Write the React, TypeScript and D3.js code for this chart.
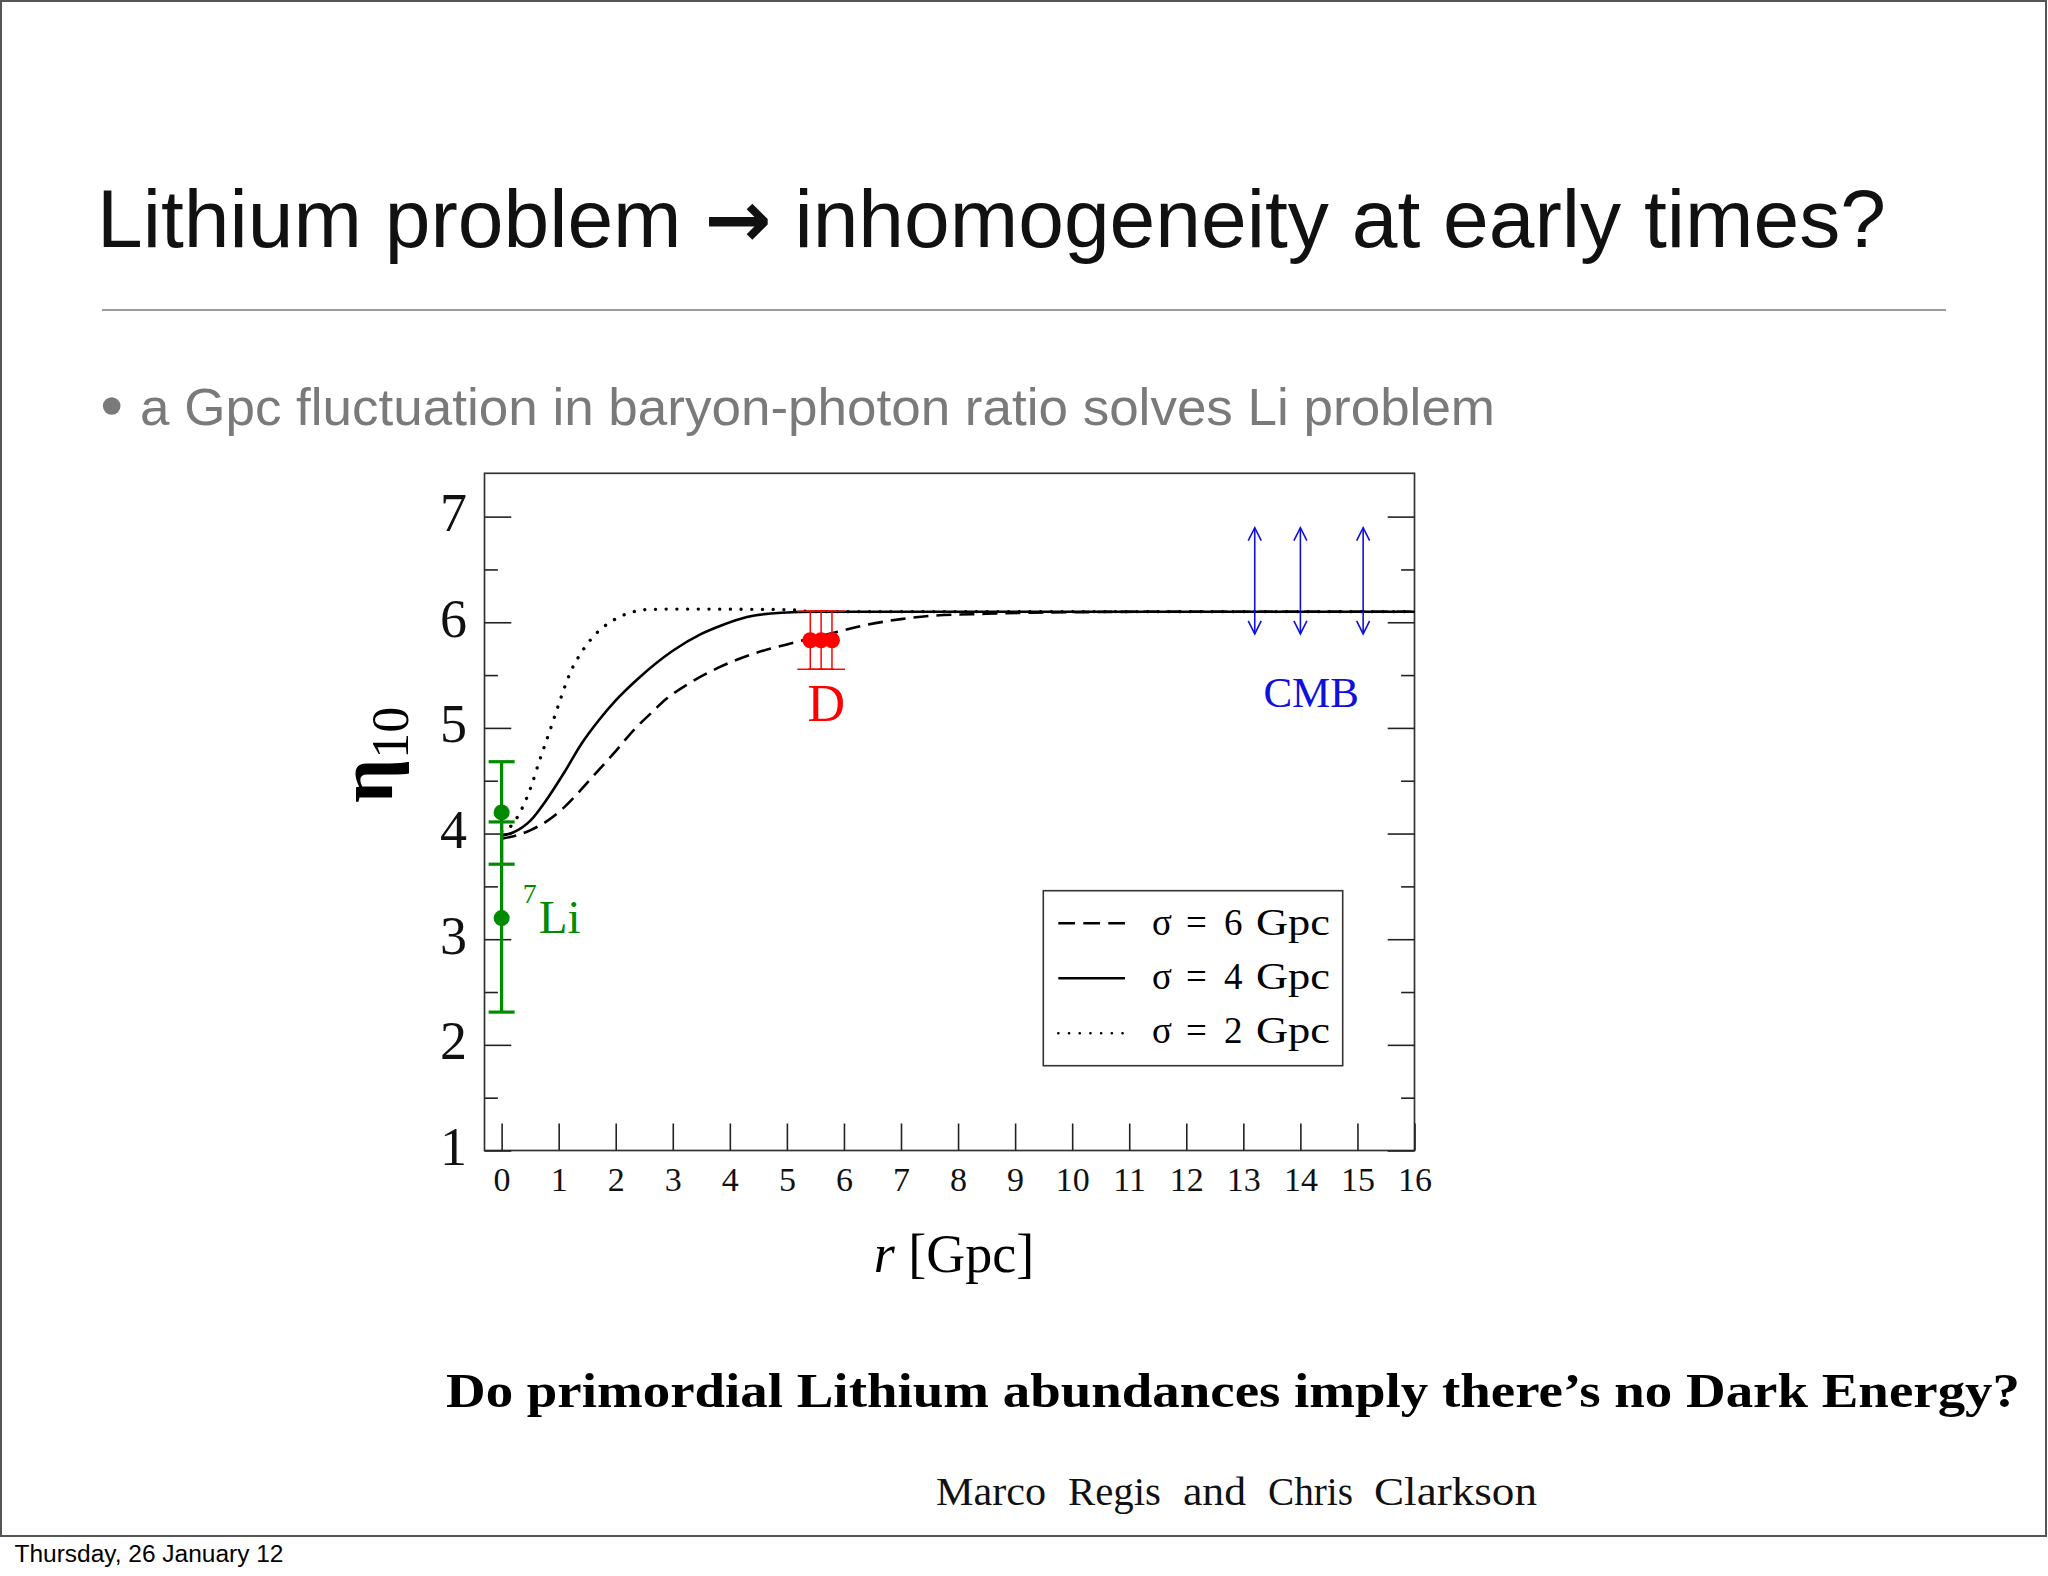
import React, { useEffect, useRef } from "react";
import * as d3 from "d3";

// ---------- data ----------
const X_TICKS = [0, 1, 2, 3, 4, 5, 6, 7, 8, 9, 10, 11, 12, 13, 14, 15, 16];
const Y_TICKS = [1, 2, 3, 4, 5, 6, 7];
const Y_MINOR = [1.5, 2.5, 3.5, 4.5, 5.5, 6.5];

// sigma = 6 Gpc (dashed)
const R_S6 = [0, 0.5, 0.8, 1.1, 1.4, 1.7, 2.0, 2.3, 2.6, 2.9, 3.25, 3.8, 4.4, 5.0, 5.75, 6.35, 7.0, 7.5, 8.5, 10, 12, 16];
const ETA_S6 = [3.95, 4.03, 4.12, 4.25, 4.42, 4.6, 4.78, 4.97, 5.13, 5.28, 5.41, 5.57, 5.7, 5.79, 5.89, 5.97, 6.03, 6.06, 6.08, 6.095, 6.1, 6.1];
// sigma = 4 Gpc (solid)
const R_S4 = [0, 0.2, 0.5, 0.8, 1.1, 1.4, 1.7, 2.0, 2.4, 3.0, 3.5, 3.85, 4.3, 4.9, 5.5, 16];
const ETA_S4 = [3.98, 4.01, 4.12, 4.33, 4.58, 4.85, 5.07, 5.26, 5.47, 5.73, 5.89, 5.97, 6.05, 6.09, 6.1, 6.1];
// sigma = 2 Gpc (dotted)
const R_S2 = [0, 0.18, 0.35, 0.5, 0.67, 0.85, 1.03, 1.2, 1.43, 1.67, 1.96, 2.25, 2.55, 3.0, 5.0, 5.5, 16];
const ETA_S2 = [4.02, 4.08, 4.23, 4.42, 4.7, 4.98, 5.27, 5.52, 5.74, 5.9, 6.02, 6.09, 6.12, 6.125, 6.12, 6.1, 6.1];

// 7Li measurements
const LI_R = [0, 0];
const LI_ETA = [4.2, 3.2];
const LI_LO = [3.71, 2.31];
const LI_HI = [4.68, 4.11];

// Deuterium measurements
const D_R = [5.41, 5.6, 5.79];
const D_ETA = [5.83, 5.83, 5.83];
const D_LO = [5.555, 5.555, 5.555];
const D_HI = [6.105, 6.105, 6.105];

// CMB ranges
const CMB_R = [13.2, 14.0, 15.1];
const CMB_LO = [5.89, 5.89, 5.89];
const CMB_HI = [6.895, 6.895, 6.895];

const LEGEND_SIGMA = ["6", "4", "2"];
const AUTHOR_WORDS = ["Marco", "Regis", "and", "Chris", "Clarkson"];
const AUTHOR_X = [936, 1068, 1183, 1268, 1374];
const AUTHOR_W = [110, 93, 63, 85, 163];

// ---------- layout ----------
const W = 2048;
const H = 1576;
const SERIF = "'Liberation Serif', 'Times New Roman', serif";
const SANS = "'Liberation Sans', Arial, Helvetica, sans-serif";
const GREEN = "#008a00";
const RED = "#ff0000";
const BLUE = "#1010dd";

const x = d3.scaleLinear().domain([-0.3, 16]).range([484.5, 1414.5]);
const y = d3.scaleLinear().domain([1, 7.41]).range([1150.5, 473.3]);

const line = d3
  .line<[number, number]>()
  .x((d) => x(d[0]))
  .y((d) => y(d[1]))
  .curve(d3.curveMonotoneX);

const zip = (a: number[], b: number[]) => a.map((v, i) => [v, b[i]] as [number, number]);

export default function App() {
  const axRef = useRef<SVGGElement>(null);

  useEffect(() => {
    const g = d3.select(axRef.current);
    g.selectAll("*").remove();
    const [x0, x1] = x.range();
    const [yb] = y.range();

    const style = (sel: any) => {
      sel.select(".domain").remove();
      sel.selectAll("line").attr("stroke", "#222").attr("stroke-width", 1.6);
    };

    const left = g
      .append("g")
      .attr("transform", `translate(${x0},0)`)
      .call(d3.axisLeft(y).tickValues(Y_TICKS).tickSize(-26.8).tickPadding(17.5).tickFormat(d3.format("d")) as any);
    style(left);
    left
      .selectAll("text")
      .attr("font-family", SERIF)
      .attr("font-size", 54)
      .attr("dy", "0.26em")
      .attr("fill", "#111");

    const leftMinor = g
      .append("g")
      .attr("transform", `translate(${x0},0)`)
      .call(d3.axisLeft(y).tickValues(Y_MINOR).tickSize(-13.4).tickFormat(() => "") as any);
    style(leftMinor);

    const right = g
      .append("g")
      .attr("transform", `translate(${x1},0)`)
      .call(d3.axisRight(y).tickValues(Y_TICKS).tickSize(-26.8).tickFormat(() => "") as any);
    style(right);
    const rightMinor = g
      .append("g")
      .attr("transform", `translate(${x1},0)`)
      .call(d3.axisRight(y).tickValues(Y_MINOR).tickSize(-13.4).tickFormat(() => "") as any);
    style(rightMinor);

    const bottom = g
      .append("g")
      .attr("transform", `translate(0,${yb})`)
      .call(d3.axisBottom(x).tickValues(X_TICKS).tickSize(-27).tickPadding(16).tickFormat(d3.format("d")) as any);
    style(bottom);
    bottom
      .selectAll("text")
      .attr("font-family", SERIF)
      .attr("font-size", 34)
      .attr("fill", "#111");
  }, []);

  const [px0, px1] = x.range();
  const [py1, py0] = y.range();

  const capHalf = 13;

  return (
    <svg
      width={W}
      height={H}
      viewBox={`0 0 ${W} ${H}`}
      style={{ position: "absolute", left: 0, top: 0, background: "#fff" }}
    >
      <rect x={0} y={0} width={W} height={H} fill="#fff" />
      {/* slide border */}
      <rect x={1} y={1} width={2045} height={1535} fill="none" stroke="#555" strokeWidth={2} />

      {/* title */}
      <text x={97} y={247.3} fontFamily={SANS} fontSize={82} fill="#111" textLength={1789} lengthAdjust="spacingAndGlyphs">
        Lithium problem{" "}
        <tspan fontFamily="'DejaVu Sans', sans-serif" fontWeight="bold" fontSize={80}>→</tspan>
        {" "}inhomogeneity at early times?
      </text>
      <line x1={102} x2={1946} y1={310} y2={310} stroke="#9a9a9a" strokeWidth={2.2} />

      {/* bullet */}
      <circle cx={111.7} cy={406} r={8.8} fill="#7a7a7a" />
      <text x={140} y={425} fontFamily={SANS} fontSize={52} fill="#7a7a7a" textLength={1355} lengthAdjust="spacingAndGlyphs">
        a Gpc fluctuation in baryon-photon ratio solves Li problem
      </text>

      {/* plot frame */}
      <rect x={px0} y={py0} width={px1 - px0} height={py1 - py0} fill="#fff" stroke="#333" strokeWidth={1.7} />
      <g ref={axRef} />

      {/* curves */}
      <path d={line(zip(R_S6, ETA_S6)) || ""} fill="none" stroke="#000" strokeWidth={2.6} strokeDasharray="15 8" />
      <path d={line(zip(R_S4, ETA_S4)) || ""} fill="none" stroke="#000" strokeWidth={2.6} />
      <path
        d={line(zip(R_S2, ETA_S2)) || ""}
        fill="none"
        stroke="#000"
        strokeWidth={3.3}
        strokeLinecap="round"
        strokeDasharray="0.1 10.6"
      />

      {/* 7Li */}
      {LI_R.map((r, i) => (
        <g key={"li" + i} stroke={GREEN} strokeWidth={3.2}>
          <line x1={x(r)} x2={x(r)} y1={y(LI_LO[i])} y2={y(LI_HI[i])} />
          <line x1={x(r) - capHalf} x2={x(r) + capHalf} y1={y(LI_LO[i])} y2={y(LI_LO[i])} />
          <line x1={x(r) - capHalf} x2={x(r) + capHalf} y1={y(LI_HI[i])} y2={y(LI_HI[i])} />
          <circle cx={x(r)} cy={y(LI_ETA[i])} r={8} fill={GREEN} stroke="none" />
        </g>
      ))}
      <text x={x(0.37)} y={932.7} fontFamily={SERIF} fill={GREEN}>
        <tspan fontSize={28} dy={-29.4}>7</tspan>
        <tspan fontSize={47} dy={29.4} dx={2}>Li</tspan>
      </text>

      {/* D */}
      {D_R.map((r, i) => (
        <g key={"d" + i} stroke={RED} strokeWidth={1.5}>
          <line x1={x(r)} x2={x(r)} y1={y(D_LO[i])} y2={y(D_HI[i])} />
          <line x1={x(r) - capHalf} x2={x(r) + capHalf} y1={y(D_LO[i])} y2={y(D_LO[i])} />
          <line x1={x(r) - capHalf} x2={x(r) + capHalf} y1={y(D_HI[i])} y2={y(D_HI[i])} />
        </g>
      ))}
      {D_R.map((r, i) => (
        <circle key={"dc" + i} cx={x(r)} cy={y(D_ETA[i])} r={8} fill={RED} />
      ))}
      <text x={x(5.69)} y={721} fontFamily={SERIF} fontSize={52} fill={RED} textAnchor="middle">
        D
      </text>

      {/* CMB */}
      {CMB_R.map((r, i) => {
        const cx = x(r);
        const yt = y(CMB_HI[i]);
        const yb = y(CMB_LO[i]);
        return (
          <g key={"c" + i} stroke={BLUE} strokeWidth={1.6} fill="none">
            <line x1={cx} x2={cx} y1={yt} y2={yb} />
            <path d={`M${cx - 6.5},${yt + 13} L${cx},${yt} L${cx + 6.5},${yt + 13}`} />
            <path d={`M${cx - 6.5},${yb - 13} L${cx},${yb} L${cx + 6.5},${yb - 13}`} />
          </g>
        );
      })}
      <text x={x(14.19)} y={706.7} fontFamily={SERIF} fontSize={43} fill={BLUE} textAnchor="middle">
        CMB
      </text>

      {/* legend */}
      <rect x={1043.3} y={890.7} width={299.4} height={175} fill="#fff" stroke="#333" strokeWidth={1.6} />
      {LEGEND_SIGMA.map((s, i) => {
        const ly = 923.3 + i * 55;
        const by = 935 + i * 54.2;
        return (
          <g key={"lg" + i}>
            <line
              x1={1058.3}
              x2={1125}
              y1={ly}
              y2={ly}
              stroke="#000"
              strokeWidth={i === 2 ? 2.6 : 2.4}
              strokeLinecap={i === 2 ? "round" : "butt"}
              strokeDasharray={i === 0 ? "16.7 8.3" : i === 2 ? "0.1 10.6" : undefined}
            />
            <text y={by} fontFamily={SERIF} fontSize={37} fill="#000">
              <tspan x={1152}>σ</tspan>
              <tspan x={1186}>=</tspan>
              <tspan x={1224}>{s}</tspan>
              <tspan x={1256} textLength={74} lengthAdjust="spacingAndGlyphs">Gpc</tspan>
            </text>
          </g>
        );
      })}

      {/* axis labels */}
      <text transform="translate(392,803) rotate(-90)" fontFamily={SERIF} fill="#000">
        <tspan fontSize={78} fontWeight="bold">η</tspan>
        <tspan fontSize={52} dy={16}>10</tspan>
      </text>
      <text x={954} y={1271.7} fontFamily={SERIF} fontSize={54} fill="#000" textAnchor="middle">
        <tspan fontStyle="italic">r</tspan> [Gpc]
      </text>

      {/* paper title and authors */}
      <text
        x={446}
        y={1407.3}
        fontFamily={SERIF}
        fontWeight="bold"
        fontSize={49}
        fill="#000"
        textLength={1574}
        lengthAdjust="spacingAndGlyphs"
      >
        Do primordial Lithium abundances imply there’s no Dark Energy?
      </text>
      {AUTHOR_WORDS.map((w, i) => (
        <text
          key={w}
          x={AUTHOR_X[i]}
          y={1505}
          fontFamily={SERIF}
          fontSize={41}
          fill="#111"
          textLength={AUTHOR_W[i]}
          lengthAdjust="spacingAndGlyphs"
        >
          {w}
        </text>
      ))}

      {/* date footer */}
      <text x={14.5} y={1561.7} fontFamily={SANS} fontSize={23} fill="#000" textLength={269} lengthAdjust="spacingAndGlyphs">
        Thursday, 26 January 12
      </text>
    </svg>
  );
}
